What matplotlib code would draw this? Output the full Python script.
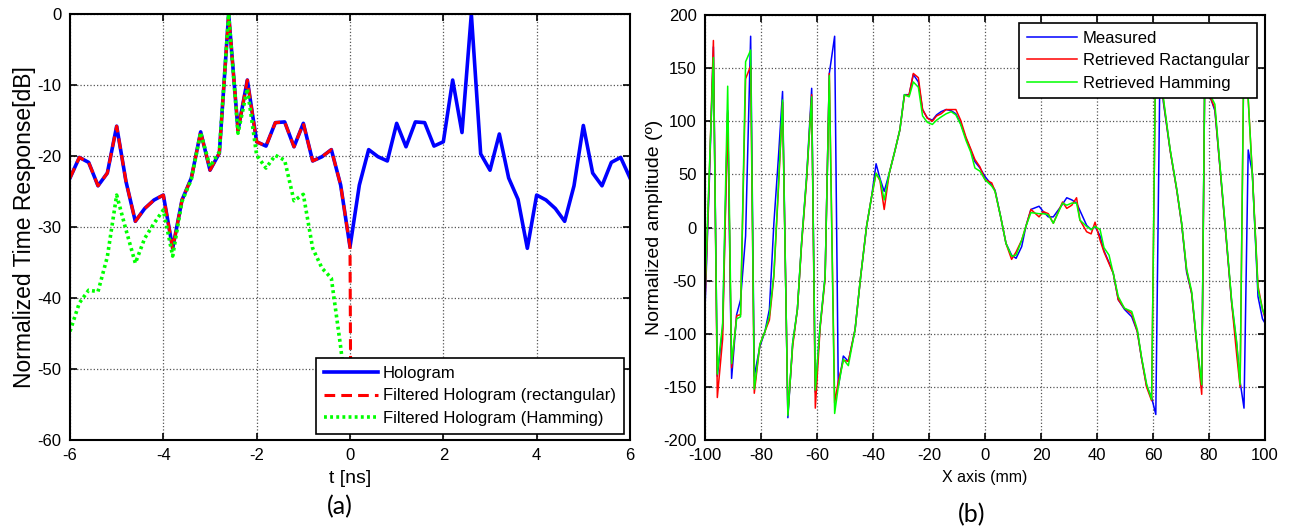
import numpy as np
import matplotlib
matplotlib.use('Agg')
import matplotlib.pyplot as plt

# ---------------- panel (a) data ----------------
t_ns = [-6.0, -5.8, -5.6, -5.4, -5.2, -5.0, -4.8, -4.6, -4.4, -4.2, -4.0, -3.8, -3.6, -3.4,
        -3.2, -3.0, -2.8, -2.6, -2.4, -2.2, -2.0, -1.8, -1.6, -1.4, -1.2, -1.0, -0.8, -0.6,
        -0.4, -0.2, 0.0, 0.2, 0.4, 0.6, 0.8, 1.0, 1.2, 1.4, 1.6, 1.8, 2.0, 2.2, 2.4, 2.6,
        2.8, 3.0, 3.2, 3.4, 3.6, 3.8, 4.0, 4.2, 4.4, 4.6, 4.8, 5.0, 5.2, 5.4, 5.6, 5.8, 6.0]

hologram_db = [-23.1, -20.2, -20.9, -24.2, -22.4, -15.8, -23.6, -29.2, -27.4, -26.2, -25.5,
               -33.0, -26.2, -23.1, -16.6, -22.0, -19.6, 0.0, -16.4, -9.3, -18.0, -18.6,
               -15.3, -15.2, -18.7, -15.4, -20.7, -20.1, -19.1, -24.1, -32.8,
               -24.1, -19.1, -20.1, -20.7, -15.4, -18.7, -15.2, -15.3, -18.6, -18.0, -9.3,
               -16.7, 0.0, -19.7, -22.0, -16.9, -23.1, -26.1, -33.0, -25.5, -26.2, -27.4,
               -29.2, -24.2, -15.7, -22.4, -24.2, -20.9, -20.2, -23.1]

# rectangular-filtered: identical for t<=0, numerical floor for t>0
rect_db = [-23.1, -20.2, -20.9, -24.2, -22.4, -15.8, -23.6, -29.2, -27.4, -26.2, -25.5,
           -33.0, -26.2, -23.1, -16.6, -22.0, -19.6, 0.0, -16.4, -9.3, -18.0, -18.6,
           -15.3, -15.2, -18.7, -15.4, -20.7, -20.1, -19.1, -24.1, -32.8,
           -300, -300, -300, -300, -300, -300, -300, -300, -300, -300, -300, -300, -300,
           -300, -300, -300, -300, -300, -300, -300, -300, -300, -300, -300, -300, -300,
           -300, -300, -300, -300]

hamming_db = [-44.7, -40.7, -38.9, -39.1, -34.2, -25.5, -30.4, -35.1, -31.6, -29.5, -27.6,
              -34.1, -26.4, -23.3, -16.7, -21.5, -19.4, 0.0, -16.8, -10.5, -19.9, -21.7,
              -19.9, -20.6, -26.3, -25.4, -33.0, -35.8, -37.2, -46.9, -58.0]

# ---------------- panel (b) data ----------------
x_mm = [-100, -98.5, -97.0, -95.6, -93.7, -91.9, -90.5, -88.7, -87.3, -85.5, -83.7, -82.4,
        -80.4, -78.6, -77.0, -75.4, -73.8, -72.3, -70.4, -68.7, -67.0, -65.5, -63.7, -61.9,
        -60.6, -58.9, -57.1, -55.6, -53.7, -52.4, -50.6, -48.8, -46.4, -44.4, -42.3, -40.5,
        -38.9, -37.5, -36.0, -34.2, -32.1, -30.4, -28.8, -27.1, -25.6, -23.8, -22.3, -20.6,
        -18.8, -17.3, -15.7, -13.9, -12.1, -10.4, -8.7, -6.8, -5.1, -3.6, -1.8, 0.0, 2.4,
        3.6, 5.6, 7.5, 9.5, 11.1, 13.1, 14.6, 16.4, 19.3, 20.8, 22.6, 24.4, 27.7, 29.2, 31.0,
        32.7, 33.9, 36.3, 37.9, 39.3, 41.1, 42.5, 44.3, 45.8, 47.6, 49.8, 52.4, 54.4, 55.9,
        57.7, 59.5, 61.0, 62.6, 63.7, 66.1, 68.5, 70.2, 72.0, 73.8, 75.6, 77.4, 78.6, 80.4,
        82.1, 83.9, 86.3, 88.1, 89.9, 91.1, 92.5, 94.0, 95.5, 97.5, 99.1, 100.0]

measured = [-77, 40, 170, -140, -95, 110, -142, -82, -68, -8, 180, -140,
            -112, -98, -77, 4, 65, 128, -179, -109, -77, -14, 48, 131,
            -155, -93, -46, 145, 180, -150, -121, -126, -96, -46, 1, 29,
            60, 46, 34, 51, 73, 92, 125, 125, 144, 137, 111, 103,
            101, 106, 109, 111, 110, 107, 98, 84, 73, 62, 56, 48, 40,
            35, 10, -15, -26, -29, -18, 1, 17, 20, 15, 10, 10, 22, 28, 26,
            23, 16, 2, -2, 1, -8, -22, -33, -43, -68, -77, -84, -98, -123,
            -149, -160, -176, 175, 118, 73, 35, 4, -42, -62, -109, -150, 175, 123,
            110, 57, -15, -71, -110, -145, -170, 73, 51, -65, -86, -90]

retrieved_rect = [-70, 45, 176, -160, -105, 108, -132, -83, -82, 140, 152, -156,
                  -110, -98, -87, -46, 35, 118, -175, -112, -77, -16, 45, 125,
                  -170, -95, -48, 145, -165, -145, -125, -126, -96, -46, 1, 29,
                  51, 44, 17, 51, 73, 92, 124, 125, 145, 141, 111, 103,
                  100, 105, 107, 111, 111, 111, 101, 85, 74, 64, 57, 45, 42,
                  34, 10, -15, -30, -23, -12, 1, 17, 10, 15, 13, 4, 24, 18, 21,
                  28, 7, -4, -6, 5, -12, -23, -34, -43, -68, -76, -81, -98, -123,
                  -150, -163, 172, 140, 120, 73, 35, 4, -40, -62, -109, -157, 176, 123,
                  112, 57, -15, -71, -120, -150, 175, 121, 50, -55, -77, -85]

retrieved_hamm = [-62, 51, 160, -138, -90, 133, -128, -86, -84, 156, 167, -152,
                  -110, -98, -83, -44, 38, 120, -177, -109, -77, -14, 48, 123,
                  -153, -93, -46, 143, -175, -150, -124, -130, -96, -46, 1, 29,
                  51, 45, 26, 51, 73, 92, 125, 123, 137, 132, 105, 99,
                  97, 101, 104, 107, 109, 106, 97, 82, 71, 56, 53, 45, 39,
                  34, 10, -15, -27, -26, -12, 1, 14, 13, 13, 12, 4, 23, 21, 23,
                  23, 7, 1, -2, 1, -2, -19, -26, -43, -65, -76, -79, -96, -122,
                  -147, -162, 175, 142, 122, 74, 36, 5, -39, -60, -107, -148, 178, 125,
                  116, 59, -13, -69, -108, -148, 176, 121, 48, -58, -77, -83]

# ---------------- figure ----------------
plt.rcParams['font.family'] = ['Liberation Sans', 'DejaVu Sans']
plt.rcParams['axes.unicode_minus'] = False
W, H = 1289, 529
fig = plt.figure(figsize=(W / 100, H / 100), dpi=100)


def style_axes(ax):
    ax.grid(True, linestyle=':', color='#555555', linewidth=0.9)
    ax.set_axisbelow(True)
    ax.tick_params(direction='in', top=True, right=True, length=5, width=1.2,
                   labelsize=12, pad=6, colors='black')
    for s in ax.spines.values():
        s.set_linewidth(1.5)
        s.set_color('black')


def style_legend(leg):
    leg.get_frame().set_linewidth(1.2)
    leg.set_zorder(10)


# panel (a)
axa = fig.add_axes([70 / W, 1 - 440 / H, 560 / W, 426 / H])
axa.plot(t_ns, hologram_db, color='#0000ff', lw=2.6, label='Hologram')
axa.plot(t_ns, rect_db, color='#ff0000', lw=2.2, ls=(0, (3.5, 2.0)),
         label='Filtered Hologram (rectangular)')
axa.plot(t_ns[:len(hamming_db)], hamming_db, color='#00ff00', lw=2.6, ls=(0, (0.8, 0.9)),
         label='Filtered Hologram (Hamming)')
axa.set_xlim(-6, 6)
axa.set_ylim(-60, 0)
axa.set_xticks(np.arange(-6, 7, 2))
axa.set_yticks(np.arange(-60, 1, 10))
style_axes(axa)
axa.set_xlabel('t [ns]', fontsize=14, labelpad=5)
axa.set_ylabel('Normalized Time Response[dB]', fontsize=16.5, labelpad=1)
lega = axa.legend(loc='lower right', fontsize=12, frameon=True, fancybox=False,
                  edgecolor='black', framealpha=1, borderaxespad=0.35,
                  handlelength=3.2, handletextpad=0.3, labelspacing=0.45,
                  borderpad=0.5)
style_legend(lega)

# panel (b)
axb = fig.add_axes([705 / W, 1 - 440 / H, 560 / W, 425 / H])
axb.plot(x_mm, measured, color='#0000ff', lw=1.1, label='Measured')
axb.plot(x_mm, retrieved_rect, color='#ff0000', lw=1.1, label='Retrieved Ractangular')
axb.plot(x_mm, retrieved_hamm, color='#00ff00', lw=1.1, label='Retrieved Hamming')
axb.set_xlim(-100, 100)
axb.set_ylim(-200, 200)
axb.set_xticks(np.arange(-100, 101, 20))
axb.set_yticks(np.arange(-200, 201, 50))
style_axes(axb)
axb.set_xlabel('X axis (mm)', fontsize=11.5, labelpad=5)
axb.set_ylabel('Normalized amplitude (º)', fontsize=14, labelpad=0)
legb = axb.legend(loc='upper right', fontsize=12, frameon=True, fancybox=False,
                  edgecolor='black', framealpha=1, borderaxespad=0.5,
                  handlelength=3.0, handletextpad=0.35, labelspacing=0.45,
                  borderpad=0.45)
style_legend(legb)

# captions
fig.text(340 / W, 1 - 507 / H, '(a)', fontsize=18, family=['Lato', 'DejaVu Sans'],
         ha='center', va='center')
fig.text(972 / W, 1 - 515 / H, '(b)', fontsize=18, family=['Lato', 'DejaVu Sans'],
         ha='center', va='center')

fig.savefig('out.png', dpi=100)
